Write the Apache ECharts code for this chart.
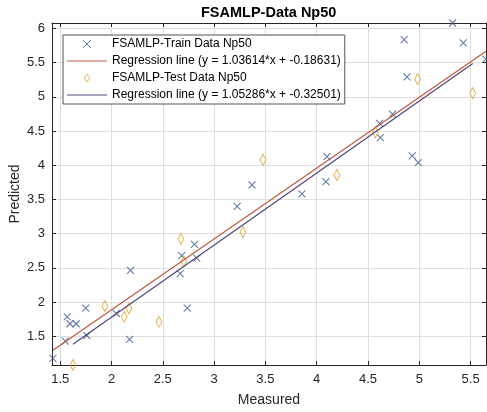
<!DOCTYPE html>
<html>
<head>
<meta charset="utf-8">
<script src="https://cdn.jsdelivr.net/npm/echarts@6/dist/echarts.min.js"></script>
<style>
  html, body { margin: 0; padding: 0; background: #ffffff; }
  #chart { width: 487px; height: 412px; }
</style>
</head>
<body>
<div id="chart"></div>
<script>
// Training set: measured vs predicted
const trainMeasured  = [1.429, 1.568, 1.595, 1.656, 1.549, 1.749, 1.760, 2.046, 2.185, 2.176,
                        2.738, 2.670, 2.684, 2.809, 2.831, 3.225, 3.369, 3.856, 4.100, 4.090,
                        4.613, 4.620, 4.739, 4.853, 4.880, 4.931, 4.990, 5.324, 5.429, 5.650];
const trainPredicted = [1.177, 1.782, 1.683, 1.683, 1.430, 1.911, 1.510, 1.833, 2.465, 1.454,
                        1.911, 2.417, 2.679, 2.842, 2.642, 3.398, 3.714, 3.583, 4.126, 3.762,
                        4.613, 4.403, 4.749, 5.838, 5.293, 4.137, 4.039, 6.080, 5.791, 5.551];

// Test set: measured vs predicted
const testMeasured  = [1.624, 1.936, 2.124, 2.170, 2.462, 2.677, 2.704, 3.281, 3.476, 4.197,
                       4.571, 4.983, 5.521];
const testPredicted = [1.080, 1.940, 1.785, 1.906, 1.712, 2.922, 2.596, 3.024, 4.078, 3.855,
                       4.482, 5.259, 5.055];

// Fitted regression coefficients
const trainSlope = 1.03614, trainIntercept = -0.18631;
const testSlope  = 1.05286, testIntercept  = -0.32501;

// Axis ranges and tick labels
const xRange = [1.42, 5.65];
const yRange = [1.08, 6.08];
const xTicks = [1.5, 2, 2.5, 3, 3.5, 4, 4.5, 5, 5.5];
const yTicks = [1.5, 2, 2.5, 3, 3.5, 4, 4.5, 5, 5.5, 6];

const pairs = (xs, ys) => xs.map((x, i) => [x, ys[i]]);
const fitLine = (xs, a, b) => {
  const lo = Math.min(...xs), hi = Math.max(...xs);
  return [[lo, a * lo + b], [hi, a * hi + b]];
};
const fmt = v => (v < 0 ? '-' : '') + Math.abs(v).toFixed(5);
const trainName = 'FSAMLP-Train Data Np50';
const testName  = 'FSAMLP-Test Data Np50';
const trainLineName = 'Regression line (y = ' + fmt(trainSlope) + '*x + ' + fmt(trainIntercept) + ')';
const testLineName  = 'Regression line (y = ' + fmt(testSlope) + '*x + ' + fmt(testIntercept) + ')';

const FONT = 'Liberation Sans, Arial, Helvetica, sans-serif';
const AXIS_COLOR = '#262626';
const TRAIN_COLOR = '#3e5e94';
const TEST_COLOR = '#e2a234';
const TRAIN_LINE = '#bf5a40';
const TEST_LINE = '#54467a';
const crossPath = 'path://M0,0L10,10M10,0L0,10';
const diamondPath = 'path://M4,0L8,5.5L4,11L0,5.5Z';
const lineIcon = 'path://M0,0L40,0L40,1.2L0,1.2Z';

const borderAxis = (pos, range, ticks) => ({
  type: 'value', position: pos, min: range[0], max: range[1],
  axisLine: { show: true, onZero: false, lineStyle: { color: AXIS_COLOR, width: 1 } },
  axisTick: { show: true, inside: true, length: 4, customValues: ticks, lineStyle: { color: AXIS_COLOR } },
  axisLabel: { show: false },
  splitLine: { show: false }
});

const chart = echarts.init(document.getElementById('chart'), null, { renderer: 'canvas' });
chart.setOption({
  animation: false,
  backgroundColor: '#ffffff',
  textStyle: { fontFamily: FONT },
  title: {
    text: 'FSAMLP-Data Np50',
    left: 201, top: 5, padding: 0,
    textStyle: { fontFamily: FONT, fontSize: 14.5, fontWeight: 'bold', color: '#000000' }
  },
  grid: { left: 52, right: 1, top: 23, bottom: 47, containLabel: false, outerBoundsMode: 'none' },
  legend: {
    orient: 'vertical',
    left: 63, top: 35,
    padding: [2, 4, 2, 4],
    itemGap: 3,
    itemWidth: 40,
    itemHeight: 8,
    symbolKeepAspect: true,
    backgroundColor: '#ffffff',
    borderColor: AXIS_COLOR,
    borderWidth: 0.8,
    borderRadius: 0,
    itemStyle: { borderWidth: 1 },
    textStyle: { fontFamily: FONT, fontSize: 12, color: '#000000', lineHeight: 14 },
    data: [
      { name: trainName, icon: crossPath },
      { name: trainLineName, icon: lineIcon },
      { name: testName, icon: diamondPath },
      { name: testLineName, icon: lineIcon }
    ]
  },
  xAxis: [
    {
      type: 'value', position: 'bottom', min: xRange[0], max: xRange[1],
      name: 'Measured', nameLocation: 'middle', nameGap: 28, nameMoveOverlap: false,
      nameTextStyle: { fontFamily: FONT, fontSize: 14, color: AXIS_COLOR },
      axisLine: { show: true, onZero: false, lineStyle: { color: AXIS_COLOR, width: 1 } },
      axisTick: { show: true, inside: true, length: 4, customValues: xTicks, lineStyle: { color: AXIS_COLOR } },
      axisLabel: { customValues: xTicks, fontFamily: FONT, fontSize: 13, color: AXIS_COLOR, margin: 8 },
      splitLine: { show: true, lineStyle: { color: '#dedede', width: 1 } }
    },
    borderAxis('top', xRange, xTicks)
  ],
  yAxis: [
    {
      type: 'value', position: 'left', min: yRange[0], max: yRange[1],
      name: 'Predicted', nameLocation: 'middle', nameGap: 30, nameMoveOverlap: false,
      nameTextStyle: { fontFamily: FONT, fontSize: 14, color: AXIS_COLOR },
      axisLine: { show: true, onZero: false, lineStyle: { color: AXIS_COLOR, width: 1 } },
      axisTick: { show: true, inside: true, length: 4, customValues: yTicks, lineStyle: { color: AXIS_COLOR } },
      axisLabel: { customValues: yTicks, fontFamily: FONT, fontSize: 13, color: AXIS_COLOR, margin: 7 },
      splitLine: { show: true, lineStyle: { color: '#dedede', width: 1 } }
    },
    borderAxis('right', yRange, yTicks)
  ],
  series: [
    {
      name: trainName, type: 'scatter', clip: false,
      symbol: crossPath, symbolSize: 7, symbolKeepAspect: true,
      itemStyle: { color: 'rgba(0,0,0,0)', borderColor: TRAIN_COLOR, borderWidth: 1.1 },
      data: pairs(trainMeasured, trainPredicted), z: 3
    },
    {
      name: trainLineName, type: 'line', clip: false, symbol: 'none',
      lineStyle: { color: TRAIN_LINE, width: 1.2 },
      itemStyle: { color: TRAIN_LINE },
      data: fitLine(trainMeasured, trainSlope, trainIntercept), z: 4
    },
    {
      name: testName, type: 'scatter', clip: false,
      symbol: diamondPath, symbolSize: [8, 11], symbolKeepAspect: true,
      itemStyle: { color: 'rgba(0,0,0,0)', borderColor: TEST_COLOR, borderWidth: 1.1 },
      data: pairs(testMeasured, testPredicted), z: 3
    },
    {
      name: testLineName, type: 'line', clip: false, symbol: 'none',
      lineStyle: { color: TEST_LINE, width: 1.2 },
      itemStyle: { color: TEST_LINE },
      data: fitLine(testMeasured, testSlope, testIntercept), z: 4
    }
  ]
});
</script>
</body>
</html>
